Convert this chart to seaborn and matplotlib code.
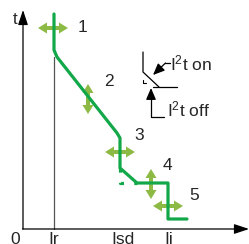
import numpy as np
import pandas as pd
import seaborn as sns
from matplotlib import pyplot as plt

# drawing units: x to the right, y downward (0 at top), like the schematic
curve_x = [54, 54, 57, 117, 120, 120, 137, 168, 168, 187]
curve_y = [14, 50, 57, 133, 138, 168, 183, 183, 219, 219]
off_x = [120, 120, 137]
off_y = [168, 183, 183]

# adjustable settings (double arrows): centre x, centre y, direction, number label
adj_x = [53, 88, 120, 151, 168]
adj_y = [28, 99, 152, 184, 206]
adj_dir = ['h', 'v', 'h', 'v', 'h']
adj_lab = ['1', '2', '3', '4', '5']
lab_x = [78, 104, 134, 163, 189]
lab_y = [27, 82, 136, 166, 196]

tick_names = ['0', 'Ir', 'Isd', 'Ii']
tick_pos = [15, 54, 123, 169]

GREEN = '#12a84a'
LIGHT = '#8dba45'

sns.set_style('white')
plt.rcParams['font.family'] = ['Liberation Sans', 'DejaVu Sans']
plt.rcParams['mathtext.fontset'] = 'custom'
plt.rcParams['mathtext.rm'] = 'Liberation Sans'
plt.rcParams['mathtext.it'] = 'Liberation Sans'

fig = plt.figure(figsize=(2.49, 2.44), dpi=100)
ax = fig.add_axes([0, 0, 1, 1])
ax.set_xlim(0, 249)
ax.set_ylim(244, 0)
ax.axis('off')

# axes with arrow heads
ax.annotate('', xy=(23, 10), xytext=(23, 229), annotation_clip=False,
            arrowprops=dict(arrowstyle='-|>,head_length=0.9,head_width=0.3', color='black', lw=0.9, shrinkA=0, shrinkB=0))
ax.annotate('', xy=(249, 229), xytext=(22.5, 229), annotation_clip=False,
            arrowprops=dict(arrowstyle='-|>,head_length=0.9,head_width=0.3', color='black', lw=0.9, shrinkA=0, shrinkB=0))
ax.plot([54, 54], [57, 229], color='#555555', lw=0.9)
ax.text(15, 19, 't', fontsize=12, ha='center', va='center')

for name, pos in zip(tick_names, tick_pos):
    ax.text(pos, 232, name, fontsize=12.5, ha='center', va='top')

# trip curve
df = pd.DataFrame({'x': curve_x, 'y': curve_y})
sns.lineplot(data=df, x='x', y='y', sort=False, estimator=None, color=GREEN, lw=2.3, ax=ax)
ax.plot(off_x, off_y, color=GREEN, lw=2.3, linestyle=(0, (1.3, 3.2)), solid_capstyle='butt')

# adjustment arrows (two filled arrows pointing out from the centre)
for cx, cy, d, lab, lx, ly in zip(adj_x, adj_y, adj_dir, adj_lab, lab_x, lab_y):
    for s in (-1, 1):
        dx, dy = (15 * s, 0) if d == 'h' else (0, 15 * s)
        ax.arrow(cx, cy, dx, dy, width=4, head_width=11, head_length=9,
                 length_includes_head=True, color=LIGHT, lw=0)
    ax.text(lx, ly, lab, fontsize=12.5, ha='left', va='center')

# I2t inset
ax.plot([143, 143, 159], [52, 72, 87], color='black', lw=0.9)
ax.plot([153, 177], [87, 87], color='black', lw=0.9)
ax.plot([143, 143, 146], [80, 83, 83], color='black', lw=0.8)
ax.plot([165, 170], [63, 63], color='black', lw=0.9)
ax.annotate('', xy=(153, 75), xytext=(165.5, 63),
            arrowprops=dict(arrowstyle='-|>,head_length=0.7,head_width=0.3', color='black', lw=0.9, shrinkA=0, shrinkB=0))
ax.text(170, 63, 'I$^2$t on', fontsize=12.5, ha='left', va='center')
ax.plot([151, 151, 164], [97, 117, 117], color='black', lw=0.9)
ax.annotate('', xy=(151, 88), xytext=(151, 98),
            arrowprops=dict(arrowstyle='-|>,head_length=0.7,head_width=0.3', color='black', lw=0.9, shrinkA=0, shrinkB=0))
ax.text(167, 109, 'I$^2$t off', fontsize=12.5, ha='left', va='center')

fig.savefig('out.png', dpi=100)
